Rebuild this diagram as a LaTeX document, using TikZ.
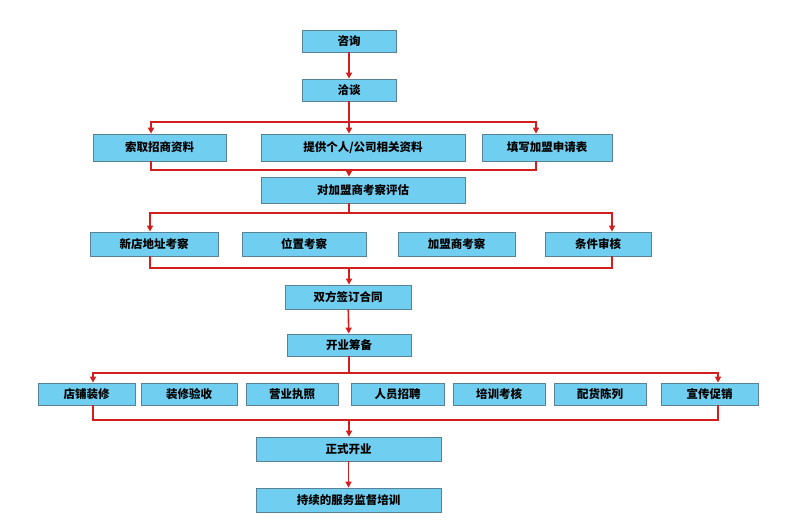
\documentclass[tikz,border=0pt]{standalone}
\usepackage{fontspec}
\newfontfamily\cjk{Noto Sans CJK SC}
\usetikzlibrary{arrows.meta}

\tikzset{every picture/.style={line width=0.75pt}}
\tikzset{
  stepbox/.style={draw={rgb,255:red,90;green,130;blue,150}, fill={rgb,255:red,112;green,206;blue,240},
    inner sep=0pt, font=\cjk\bfseries\fontsize{11.5}{13}\selectfont, anchor=center},
  flow/.style={draw={rgb,255:red,210;green,30;blue,30}, line width=1.6pt},
  flowarr/.style={flow, -{Triangle[length=6pt,width=6pt]}},
}

\begin{document}
\begin{tikzpicture}[x=1pt,y=1pt,yscale=-1,xscale=1]
\useasboundingbox (0,0) rectangle (794,525);

% Boxes
\node[stepbox, minimum width=94, minimum height=22] (zx) at (349,41) {咨询};
\node[stepbox, minimum width=94, minimum height=22] (qt) at (349,90) {洽谈};
\node[stepbox, minimum width=133, minimum height=27] (sq) at (159.5,147.5) {索取招商资料};
\node[stepbox, minimum width=204, minimum height=27] (tg) at (363,147.5) {提供个人/公司相关资料};
\node[stepbox, minimum width=130, minimum height=27] (tx) at (547,147.5) {填写加盟申请表};
\node[stepbox, minimum width=204, minimum height=26] (pg) at (363,190) {对加盟商考察评估};
\node[stepbox, minimum width=128, minimum height=24] (xd) at (154,244) {新店地址考察};
\node[stepbox, minimum width=124, minimum height=24] (wz) at (304,244) {位置考察};
\node[stepbox, minimum width=117, minimum height=24] (jm) at (456.5,244) {加盟商考察};
\node[stepbox, minimum width=106, minimum height=24] (tj) at (598,244) {条件审核};
\node[stepbox, minimum width=126, minimum height=24] (qy) at (348,297) {双方签订合同};
\node[stepbox, minimum width=124, minimum height=22] (cb) at (349,345) {开业筹备};
\node[stepbox, minimum width=97, minimum height=22] (zs) at (86.5,394) {店铺装修};
\node[stepbox, minimum width=96, minimum height=22] (ys) at (189,394) {装修验收};
\node[stepbox, minimum width=92, minimum height=22] (zz) at (292,394) {营业执照};
\node[stepbox, minimum width=93, minimum height=22] (zp) at (397.5,394) {人员招聘};
\node[stepbox, minimum width=92, minimum height=22] (px) at (499,394) {培训考核};
\node[stepbox, minimum width=92, minimum height=22] (ph) at (600,394) {配货陈列};
\node[stepbox, minimum width=97, minimum height=22] (xc) at (709.5,394) {宣传促销};
\node[stepbox, minimum width=185, minimum height=24] (ky) at (348.5,449) {正式开业};
\node[stepbox, minimum width=185, minimum height=24] (jd) at (348.5,500) {持续的服务监督培训};

% Branch points
\coordinate (b1) at (349,122);
\coordinate (j1) at (349,170);
\coordinate (b2) at (349,213);
\coordinate (j2) at (349,268);
\coordinate (b3) at (349,373);
\coordinate (j3) at (349,420);
\coordinate (sqx) at (151,0);
\coordinate (txx) at (536,0);
\coordinate (xdx) at (150,0);
\coordinate (tjx) at (612,0);
\coordinate (zsx) at (93,0);
\coordinate (xcx) at (718,0);

% Connectors
\draw[flowarr] (zx) -- (qt);
\draw[flow] (qt) -- (b1);
\draw[flowarr] (b1) -| (sqx |- sq.north);
\draw[flowarr] (b1) -| (txx |- tx.north);
\draw[flowarr] (b1) -- (b1 |- tg.north);
\draw[flow] (sqx |- sq.south) |- (j1) -| (txx |- tx.south);
\draw[flowarr] (j1) -- (j1 |- pg.north);
\draw[flow] (b2 |- pg.south) -- (b2);
\draw[flowarr] (b2) -| (xdx |- xd.north);
\draw[flowarr] (b2) -| (tjx |- tj.north);
\draw[flow] (xdx |- xd.south) |- (j2) -| (tjx |- tj.south);
\draw[flowarr] (j2) -- (j2 |- qy.north);
\draw[flowarr] (qy) -- (cb);
\draw[flow] (cb) -- (b3);
\draw[flowarr] (b3) -| (zsx |- zs.north);
\draw[flowarr] (b3) -| (xcx |- xc.north);
\draw[flow] (zsx |- zs.south) |- (j3) -| (xcx |- xc.south);
\draw[flowarr] (j3) -- (j3 |- ky.north);
\draw[flowarr] (ky) -- (jd);

\end{tikzpicture}
\end{document}
